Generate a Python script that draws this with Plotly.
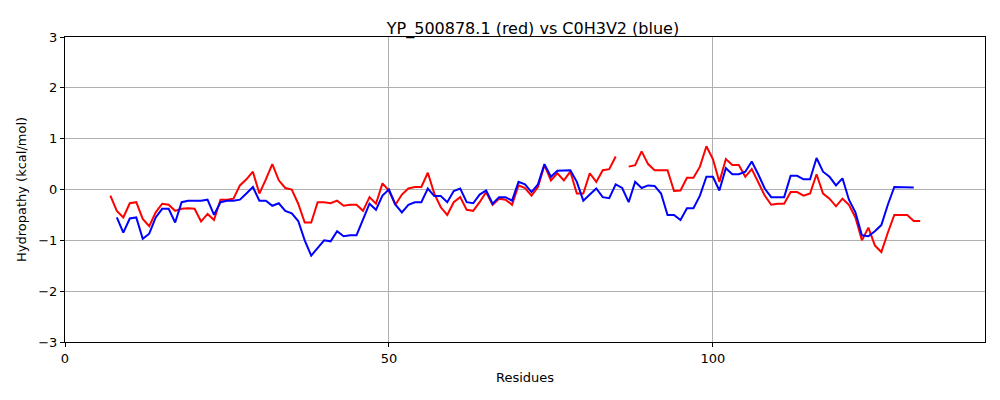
import plotly.graph_objects as go

red_x = list(range(7, 133))
red_y = [-0.12, -0.42, -0.55, -0.27, -0.25, -0.58, -0.72, -0.45, -0.28, -0.3,
         -0.42, -0.38, -0.37, -0.38, -0.63, -0.48, -0.6, -0.2, -0.2, -0.18,
         0.08, 0.2, 0.35, -0.08, 0.2, 0.5, 0.18, 0.03, 0.0, -0.28,
         -0.65, -0.65, -0.25, -0.25, -0.27, -0.22, -0.32, -0.3, -0.3, -0.42,
         -0.15, -0.28, 0.12, -0.02, -0.3, -0.1, 0.02, 0.05, 0.05, 0.33,
         -0.08, -0.35, -0.5, -0.25, -0.15, -0.4, -0.42, -0.25, -0.05, -0.3,
         -0.18, -0.2, -0.3, 0.08, 0.03, -0.12, 0.05, 0.48, 0.18, 0.32,
         0.18, 0.35, -0.08, -0.08, 0.32, 0.15, 0.38, 0.4, 0.65, None,
         0.45, 0.48, 0.75, 0.5, 0.38, 0.38, 0.38, -0.03, -0.02, 0.23,
         0.23, 0.45, 0.85, 0.6, 0.15, 0.6, 0.48, 0.48, 0.25, 0.4,
         0.15, -0.12, -0.3, -0.28, -0.28, -0.05, -0.05, -0.12, -0.08, 0.3,
         -0.08, -0.18, -0.33, -0.18, -0.3, -0.55, -1.0, -0.75, -1.1, -1.23,
         -0.85, -0.5, -0.5, -0.5, -0.62, -0.62]

blue_x = list(range(8, 132))
blue_y = [-0.55, -0.85, -0.57, -0.55, -0.97, -0.87, -0.55, -0.38, -0.38, -0.65,
          -0.25, -0.22, -0.22, -0.22, -0.2, -0.5, -0.25, -0.22, -0.22, -0.2,
          -0.08, 0.05, -0.22, -0.22, -0.32, -0.27, -0.42, -0.47, -0.62, -1.0,
          -1.3, -1.15, -1.0, -1.02, -0.82, -0.92, -0.9, -0.9, -0.6, -0.28,
          -0.4, -0.12, 0.0, -0.3, -0.45, -0.3, -0.25, -0.25, 0.02, -0.13,
          -0.13, -0.25, -0.03, 0.02, -0.25, -0.27, -0.1, -0.02, -0.28, -0.15,
          -0.15, -0.22, 0.15, 0.1, -0.05, 0.1, 0.5, 0.25, 0.37, 0.37,
          0.38, 0.15, -0.22, -0.1, 0.02, -0.15, -0.17, 0.1, 0.03, -0.25,
          0.15, 0.03, 0.08, 0.07, -0.08, -0.5, -0.5, -0.6, -0.37, -0.37,
          -0.12, 0.25, 0.25, -0.02, 0.42, 0.3, 0.3, 0.35, 0.55, 0.3,
          0.02, -0.15, -0.15, -0.15, 0.27, 0.27, 0.2, 0.2, 0.62, 0.35,
          0.25, 0.08, 0.22, -0.2, -0.45, -0.9, -0.92, -0.82, -0.7, -0.3,
          0.05, 0.05, 0.05, 0.04]

fig = go.Figure()
fig.add_trace(go.Scatter(x=red_x, y=red_y, mode='lines', line=dict(color='red', width=2),
                         connectgaps=False))
fig.add_trace(go.Scatter(x=blue_x, y=blue_y, mode='lines', line=dict(color='blue', width=2)))

axis = dict(showline=True, linecolor='black', linewidth=1, mirror=True, ticks='outside',
            ticklen=4, tickcolor='black', showgrid=True, gridcolor='#b0b0b0', gridwidth=1,
            zeroline=False, title_font=dict(size=13), tickfont=dict(size=13))

fig.update_layout(
    width=1000, height=400, showlegend=False,
    plot_bgcolor='white', paper_bgcolor='white',
    font=dict(family='DejaVu Sans', color='black'),
    margin=dict(l=57, r=23, t=29, b=66),
    title=dict(text='YP_500878.1 (red) vs C0H3V2 (blue)', x=0.525, xanchor='center',
               y=0.95, yanchor='middle', font=dict(size=16)),
    xaxis=dict(axis, range=[0, 142], tickvals=[0, 50, 100], title=dict(text='Residues', standoff=8)),
    yaxis=dict(axis, range=[-3, 3], dtick=1, title=dict(text='Hydropathy (kcal/mol)', standoff=8)),
    shapes=[dict(type='line', xref='paper', x0=0, x1=1, yref='y', y0=0, y1=0,
                 line=dict(color='black', width=1), layer='below')],
)
fig.write_html("out.html")
